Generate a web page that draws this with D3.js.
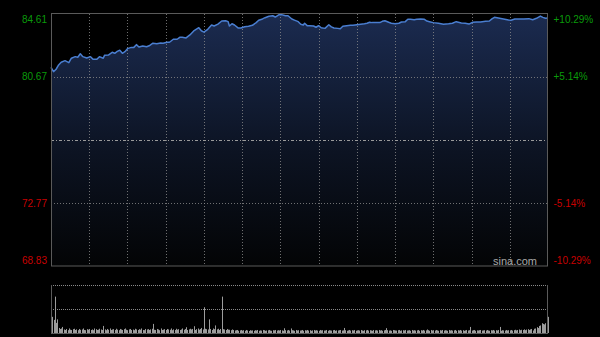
<!DOCTYPE html>
<html>
<head>
<meta charset="utf-8">
<script src="https://cdn.jsdelivr.net/npm/d3@7"></script>
<style>
  html, body { margin: 0; padding: 0; background: #000; }
  svg { display: block; }
  text { font-family: "Liberation Sans", Arial, sans-serif; }
</style>
</head>
<body>
<svg id="chart" width="600" height="337"></svg>
<script>
// ---- data ----
const preClose = 76.72;
const priceMin = 68.83;
const priceMax = 84.61;
const priceTicks = [84.61, 80.67, 72.77, 68.83];
const priceTickLabels = ["84.61", "80.67", "72.77", "68.83"];
const pctTickLabels = ["+10.29%", "+5.14%", "-5.14%", "-10.29%"];
const sessionMinutes = 390;
const gridMinutes = [30, 60, 90, 120, 150, 180, 210, 240, 270, 300, 330, 360];

const minutes = [0,2,4,6,8,11,14,16,19,21,23,25,28,31,33,36,38,41,42,45,48,50,52,54,56,58,60,63,65,67,69,72,75,77,80,83,86,88,91,93,96,99,101,103,106,109,112,116,118,120,123,126,128,131,134,137,139,140,142,144,147,149,152,155,158,161,163,166,168,171,174,176,179,181,184,186,189,191,194,196,198,199,201,203,206,208,210,212,215,218,220,222,225,227,229,232,235,237,240,243,246,248,250,252,255,258,260,262,265,267,270,273,275,278,280,282,285,287,290,293,295,297,300,304,308,312,315,318,322,325,328,331,334,337,341,344,346,348,351,355,359,361,364,367,371,375,378,381,384,386,388,390];

const prices = [81.27,81.00,81.15,81.42,81.59,81.69,81.56,81.84,81.94,81.90,82.12,81.94,81.85,81.94,81.77,81.77,81.94,81.84,82.02,82.04,82.21,82.15,82.27,82.34,82.15,82.25,82.44,82.52,82.52,82.69,82.54,82.61,82.56,82.62,82.78,82.75,82.79,82.78,82.84,82.84,83.03,83.03,83.15,83.15,83.11,83.30,83.55,83.75,83.56,83.48,83.65,83.92,83.86,83.98,84.17,84.19,84.13,83.86,84.00,83.92,83.73,83.73,83.81,83.84,83.90,84.07,84.22,84.30,84.38,84.47,84.50,84.42,84.57,84.57,84.50,84.50,84.30,84.23,84.13,83.97,83.92,84.03,83.88,83.88,83.86,83.78,83.88,83.75,83.71,83.94,83.80,83.73,83.71,83.69,83.84,83.88,83.90,83.90,83.94,83.97,84.00,84.03,84.09,84.07,84.07,84.07,84.15,84.19,84.09,84.03,84.00,84.03,84.11,84.13,84.28,84.28,84.25,84.28,84.30,84.28,84.17,84.13,84.07,84.03,83.97,84.00,84.03,84.13,84.05,84.03,83.98,84.09,84.11,84.11,84.15,84.17,84.30,84.40,84.36,84.30,84.23,84.22,84.30,84.30,84.30,84.32,84.25,84.34,84.48,84.40,84.34,84.36];

// volume per minute (arbitrary units, estimated)
const volumeMax = 475;
const volumes = [
190,160,130,360,100,135,50,40,45,60,
35,30,40,28,45,33,30,38,42,30,36,28,40,32,35,45,30,28,38,33,
40,30,35,28,45,38,30,33,42,35,30,70,36,28,40,32,45,30,35,38,
30,42,33,28,40,35,30,38,45,32,28,36,40,30,34,28,42,36,30,38,
33,45,30,28,40,35,38,30,36,42,90,32,30,40,35,28,45,30,33,38,
30,40,35,32,45,28,36,30,42,33,38,30,35,45,32,40,57,30,36,42,
35,40,67,30,38,45,33,40,50,35,255,42,38,35,135,40,30,45,38,75,
36,42,30,40,360,38,35,30,40,33,
32,28,35,30,25,28,30,22,26,30,24,28,22,30,25,20,28,24,26,22,
28,25,30,22,26,24,30,28,22,25,27,30,24,22,28,26,30,24,28,25,
30,26,22,47,28,25,30,24,45,28,26,22,30,25,28,24,26,30,22,28,
25,30,24,28,22,26,30,25,28,24,22,30,26,28,24,25,30,22,28,26,
24,28,30,22,26,25,28,30,24,26,50,28,22,26,30,24,28,25,30,22,
26,28,24,30,25,22,28,26,30,24,28,25,22,30,26,28,24,30,25,28,
22,26,30,48,28,24,26,22,30,28,25,24,28,30,22,26,28,25,30,24,
26,28,22,30,25,28,24,26,30,22,28,25,30,24,26,35,28,22,30,25,
28,24,30,26,22,28,25,30,24,28,26,22,30,25,28,24,26,30,22,28,
25,30,24,28,22,26,30,25,28,60,24,28,30,22,26,25,28,30,24,26,
28,24,30,25,22,28,26,30,24,28,25,30,60,22,28,26,24,30,25,28,
26,30,24,28,32,26,30,35,28,32,30,36,28,34,38,30,36,40,25,42,
45,58,50,70,75,97,90,85,97,150,160
];

// ---- layout ----
const svg = d3.select("#chart");
const L = 51, R = 548, T = 14, B = 266;
const VT = 285, VB = 333;

const x = d3.scaleLinear().domain([0, sessionMinutes]).range([L, R]);
const y = d3.scaleLinear().domain([priceMin, priceMax]).range([B, T]);
const yv = d3.scaleLinear().domain([0, volumeMax]).range([VB, VT]);

const n = Math.min(minutes.length, prices.length);
const series = d3.range(n).map(i => ({ m: minutes[i], p: prices[i] }));

// gradient
const defs = svg.append("defs");
const grad = defs.append("linearGradient")
  .attr("id", "areaGrad").attr("gradientUnits", "userSpaceOnUse")
  .attr("x1", 0).attr("x2", 0).attr("y1", T).attr("y2", B);
grad.append("stop").attr("offset", "0%").attr("stop-color", "#1b2b50");
grad.append("stop").attr("offset", "55%").attr("stop-color", "#0c1322");
grad.append("stop").attr("offset", "100%").attr("stop-color", "#030405");

// area
svg.append("path")
  .datum(series)
  .attr("fill", "url(#areaGrad)")
  .attr("d", d3.area().x(d => x(d.m)).y0(B).y1(d => y(d.p)));

// vertical grid
svg.append("g").selectAll("line").data(gridMinutes).join("line")
  .attr("x1", d => Math.round(x(d)) + 0.5).attr("x2", d => Math.round(x(d)) + 0.5)
  .attr("y1", T).attr("y2", B)
  .attr("stroke", "#8a8a8a").attr("stroke-width", 1).attr("stroke-dasharray", "1,2")
  .attr("stroke-opacity", 0.8);

// horizontal grid (non-border levels)
const innerLevels = priceTicks.filter(v => v !== priceMax && v !== priceMin);
svg.append("g").selectAll("line").data(innerLevels).join("line")
  .attr("x1", L).attr("x2", R)
  .attr("y1", d => Math.round(y(d)) + 0.5).attr("y2", d => Math.round(y(d)) + 0.5)
  .attr("stroke", "#8a8a8a").attr("stroke-width", 1).attr("stroke-dasharray", "1,2")
  .attr("stroke-opacity", 0.8);

// pre-close line
svg.append("line")
  .attr("x1", L).attr("x2", R)
  .attr("y1", Math.round(y(preClose)) + 0.5).attr("y2", Math.round(y(preClose)) + 0.5)
  .attr("stroke", "#9a9a9a").attr("stroke-width", 1).attr("stroke-dasharray", "3,2,1,2");

// price line
svg.append("path")
  .datum(series)
  .attr("fill", "none")
  .attr("stroke", "#4a7ed0")
  .attr("stroke-width", 1.5)
  .attr("stroke-linejoin", "round")
  .attr("d", d3.line().x(d => x(d.m)).y(d => y(d.p)));

// border
svg.append("rect")
  .attr("x", L + 0.5).attr("y", T - 0.5).attr("width", R - L - 1).attr("height", B - T + 0.5)
  .attr("fill", "none").attr("stroke", "#5a5a5a").attr("stroke-width", 1);

// labels
function labelY(v) {
  const yy = y(v) + 3.5;
  return Math.max(T + 8.5, Math.min(B - 2.5, yy));
}
svg.append("g").selectAll("text").data(priceTicks).join("text")
  .attr("x", 47).attr("y", d => labelY(d))
  .attr("text-anchor", "end").attr("font-size", 10)
  .attr("fill", d => d > preClose ? "#0a9a0a" : "#c80000")
  .text((d, i) => priceTickLabels[i]);

svg.append("g").selectAll("text").data(priceTicks).join("text")
  .attr("x", 553.5).attr("y", d => labelY(d))
  .attr("text-anchor", "start").attr("font-size", 10)
  .attr("fill", d => d > preClose ? "#0a9a0a" : "#c80000")
  .text((d, i) => pctTickLabels[i]);

// watermark
svg.append("text")
  .attr("x", 537).attr("y", 264.5).attr("text-anchor", "end")
  .attr("font-size", 11).attr("fill", "#a8a8a8").text("sina.com");

// ---- volume panel ----
svg.append("line").attr("x1", L).attr("x2", R).attr("y1", VT + 0.5).attr("y2", VT + 0.5)
  .attr("stroke", "#8a8a8a").attr("stroke-dasharray", "1,1");
svg.append("line").attr("x1", L).attr("x2", R)
  .attr("y1", Math.round(yv(volumeMax / 2)) + 0.5).attr("y2", Math.round(yv(volumeMax / 2)) + 0.5)
  .attr("stroke", "#8a8a8a").attr("stroke-dasharray", "1,1");

svg.append("g").selectAll("rect").data(volumes).join("rect")
  .attr("x", (d, i) => Math.round(x(i)))
  .attr("width", 1)
  .attr("y", d => yv(d))
  .attr("height", d => VB - yv(d))
  .attr("fill", "#9c9c9c");

svg.append("line").attr("x1", L + 0.5).attr("x2", L + 0.5).attr("y1", VT).attr("y2", VB)
  .attr("stroke", "#5a5a5a");
svg.append("line").attr("x1", R - 0.5).attr("x2", R - 0.5).attr("y1", VT).attr("y2", VB)
  .attr("stroke", "#5a5a5a");
svg.append("line").attr("x1", L).attr("x2", R).attr("y1", VB + 0.5).attr("y2", VB + 0.5)
  .attr("stroke", "#5a5a5a");
</script>
</body>
</html>
